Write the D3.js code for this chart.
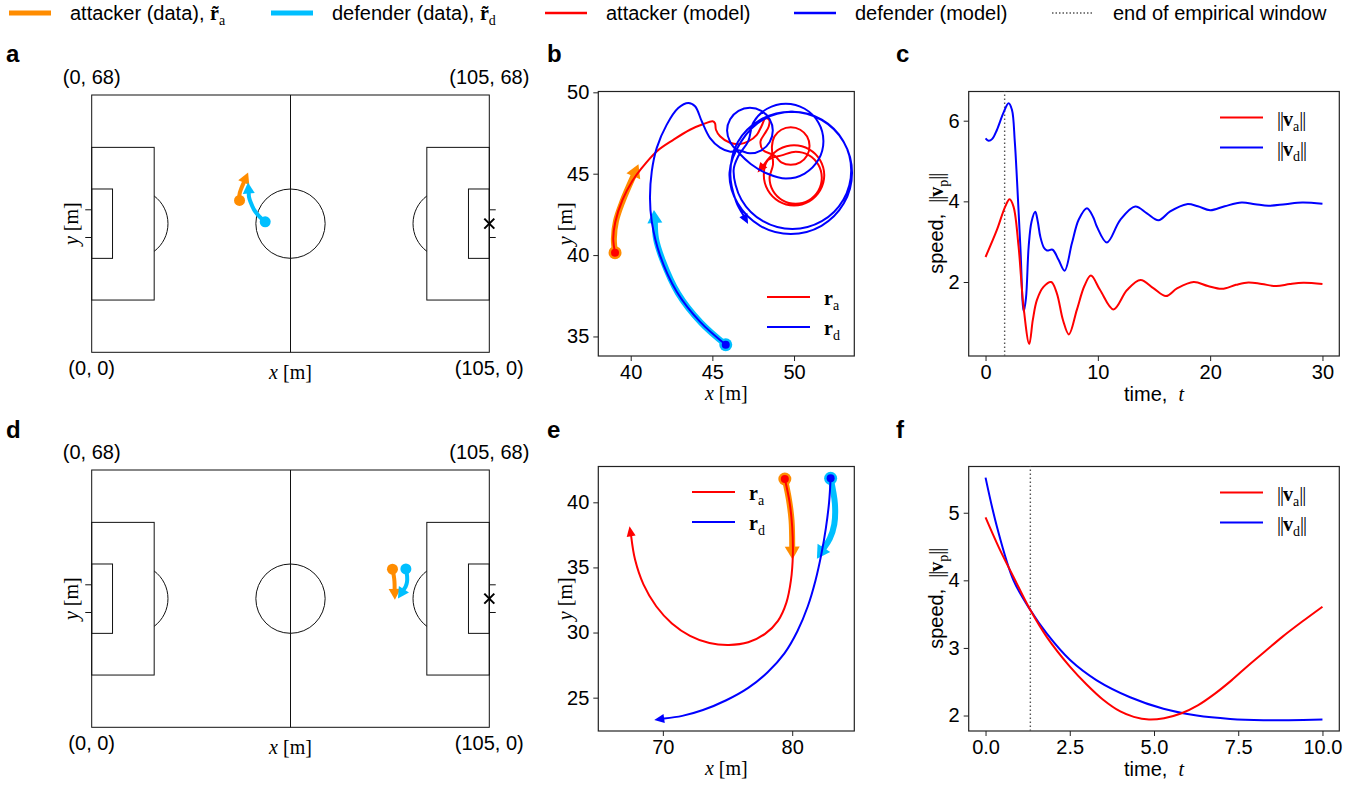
<!DOCTYPE html>
<html>
<head>
<meta charset="utf-8">
<script src="https://cdn.jsdelivr.net/npm/d3@7"></script>
<style>
body { margin: 0; background: #fff; }
svg text { font-family: "Liberation Sans", Arial, sans-serif; fill: #000; }
</style>
</head>
<body>
<svg id="fig" width="1372" height="785"></svg>
<script>
const SANS = '"Liberation Sans", Arial, sans-serif';
const SERIF = '"Liberation Serif", "Times New Roman", serif';

// ---- example 1 (panels a, b, c) ----
const attData1 = [[39.04,40.15],[38.97,41.0],[39.1,42.1],[39.5,43.3],[40.16,44.84]];
const defData1 = [[45.82,34.49],[44.3,35.85],[42.9,37.65],[41.95,39.7],[41.55,41.0],[41.48,41.97]];
const attModel1 = [[39.04,40.15],[38.93,41.0],[39.05,42.0],[39.5,43.4],[40.1,44.55],[40.67,45.34],[41.59,46.37],[42.61,47.08],
  [43.63,47.70],[44.45,48.05],[45.02,48.22],[45.16,48.1],[45.22,47.7],[45.47,47.3],[46.08,46.9],[46.69,46.82],[47.2,46.98],
  [47.72,47.39],[48.02,47.95],[48.25,48.4],[48.48,48.3],[48.45,47.9],[48.2,47.45],[47.95,47.0],[48.1,46.45],[48.8,46.12],
  [49.22,45.7],[49.8,45.55],[50.38,45.7],[50.8,46.12],[50.95,46.7],[50.8,47.28],[50.38,47.7],[49.8,47.85],[49.22,47.7],
  [48.8,47.28],[48.65,46.7],[48.71,45.55],[48.5,44.75],[48.71,43.95],[49.3,43.36],[50.1,43.15],[50.9,43.36],[51.49,43.95],
  [51.7,44.75],[51.49,45.55],[50.9,46.14],[50.1,46.35],[49.3,46.14],[48.4,45.83],[48.15,44.9],[48.4,43.98],[49.07,43.3],
  [50.0,43.05],[50.93,43.3],[51.6,43.98],[51.85,44.9],[51.6,45.83],[50.93,46.5],[50.0,46.75],[49.07,46.5],[48.55,46.05],
  [48.15,45.55]];
const defModel1 = [[45.82,34.49],[44.24,35.91],[42.82,37.75],[41.79,40.0],[41.29,42.06],[41.18,43.5],[41.29,45.14],[41.59,46.57],
  [42.2,48.0],[42.91,49.03],[43.53,49.34],[43.94,49.14],[44.35,48.22],[44.86,47.19],[45.47,46.6],[46.1,46.35],[46.6,46.44],
  [47.3,46.25],[48.0,46.44],[48.51,46.95],[48.7,47.65],[48.51,48.35],[48.0,48.86],[47.3,49.05],[46.6,48.86],[46.09,48.35],
  [45.9,47.65],[46.09,46.95],[46.6,46.3],[47.35,45.6],[48.35,45.01],[49.5,44.7],[50.65,45.01],[51.49,45.85],[51.8,47.0],
  [51.49,48.15],[50.65,48.99],[49.5,49.3],[48.35,48.99],[47.51,48.15],[47.2,47.0],[46.6,46.1],[46.3,45.2],[46.78,43.4],
  [48.1,42.08],[49.9,41.6],[51.7,42.08],[53.02,43.4],[53.5,45.2],[53.02,47.0],[51.7,48.32],[49.9,48.8],[48.1,48.32],
  [46.78,47.0],[46.05,45.05],[46.55,43.18],[47.93,41.8],[49.8,41.3],[51.68,41.8],[53.05,43.18],[53.55,45.05],[53.05,46.93],
  [51.68,48.3],[49.8,48.8],[47.93,48.3],[46.55,46.93],[46.1,45.0],[46.45,43.3],[46.9,42.45]];
const speedA1 = [[0,2.62],[1.01,3.29],[1.75,3.87],[2.14,4.05],[2.49,3.87],[2.94,2.88],[3.38,1.39],[3.89,0.46],[4.21,1.06],
  [4.57,1.55],[5.16,1.88],[5.85,2.0],[6.35,1.72],[6.9,1.05],[7.42,0.70],[8.13,1.31],[8.8,1.9],[9.38,2.16],[10.2,1.8],
  [11.39,1.32],[12.6,1.8],[13.8,2.05],[14.97,1.84],[16.07,1.65],[17.05,1.84],[18.53,2.0],[19.8,1.9],[21.05,1.83],
  [22.3,1.93],[23.4,1.99],[24.6,1.95],[25.9,1.9],[27.1,1.95],[28.3,1.98],[30,1.95]];
const speedD1 = [[0,5.56],[0.27,5.5],[0.6,5.55],[1.01,5.77],[1.6,6.2],[2.05,6.43],[2.35,6.27],[2.6,5.5],[2.8,4.53],[3.1,2.88],
  [3.4,1.27],[3.6,1.6],[3.84,2.88],[4.1,3.5],[4.43,3.74],[4.65,3.5],[4.88,3.12],[5.2,2.85],[5.47,2.78],[5.97,2.8],[6.5,2.55],
  [7.04,2.28],[7.69,2.96],[8.3,3.55],[9.03,3.83],[9.6,3.6],[9.92,3.37],[10.81,2.98],[12.0,3.54],[13.33,3.87],[14.37,3.7],
  [15.4,3.53],[16.44,3.75],[17.92,3.93],[18.9,3.88],[20.0,3.78],[21.3,3.88],[22.8,3.97],[24.0,3.93],[25.2,3.89],[26.7,3.93],
  [28.2,3.97],[30,3.94]];
const tEnd1 = 1.7;

// ---- example 2 (panels d, e, f) ----
const attData2 = [[79.43,41.79],[79.75,40.2],[79.95,38.6],[80.0,36.6]];
const defData2 = [[82.97,41.84],[83.3,39.9],[83.25,38.3],[82.9,37.2],[82.45,36.5]];
const attModel2 = [[79.43,41.79],[79.8,40.0],[80.0,38.1],[80.05,36.0],[79.9,34.0],[79.55,32.3],[78.9,30.9],[77.9,29.9],
  [76.6,29.25],[75.1,29.05],[73.6,29.2],[72.1,29.75],[70.7,30.7],[69.5,32.0],[68.5,33.7],[67.85,35.6],[67.55,37.4]];
const defModel2 = [[82.97,41.84],[82.85,40.0],[82.6,38.0],[82.25,36.0],[81.8,34.0],[81.2,32.0],[80.4,30.1],[79.4,28.4],
  [78.1,26.95],[76.6,25.75],[74.9,24.8],[73.1,24.05],[71.5,23.6],[70.1,23.4]];
const speedA2 = [[0,4.93],[0.4,4.48],[0.83,4.05],[1.33,3.56],[1.82,3.16],[2.51,2.72],[3.0,2.46],[3.5,2.23],[4.0,2.06],
  [4.4,1.98],[4.85,1.94],[5.3,1.96],[5.8,2.03],[6.3,2.15],[6.8,2.32],[7.3,2.52],[7.8,2.74],[8.3,2.95],[8.8,3.16],
  [9.4,3.39],[10,3.61]];
const speedD2 = [[0,5.52],[0.34,4.79],[0.83,4.0],[1.33,3.56],[1.82,3.21],[2.51,2.82],[3.3,2.52],[4.29,2.27],[5.28,2.1],
  [6.27,2.0],[7.26,1.95],[8.25,1.93],[9.0,1.93],[10,1.94]];
const tEnd2 = 1.33;

// ticks
const ticksBx = [40,45,50], ticksBy = [35,40,45,50];
const ticksCx = [0,10,20,30], ticksCy = [2,4,6];
const ticksEx = [70,80], ticksEy = [25,30,35,40];
const ticksFx = [0,2.5,5,7.5,10], ticksFy = [2,3,4,5];
const cornerLabels = ["(0, 68)", "(105, 68)", "(0, 0)", "(105, 0)"];
const panelLetters = ["a","b","c","d","e","f"];

const COL = { att: "#ff8c00", def: "#00bfff", attM: "#ff0000", defM: "#0000ff", win: "#555" };
const SP = "\u00a0";

const svg = d3.select("#fig");

// rich text: parts = [text, style]
function rich(t, parts) {
  let sub = false;
  parts.forEach(p => {
    const s = t.append("tspan").text(p[0]);
    if (p[1] === "serif") s.attr("font-family", SERIF);
    if (p[1] === "bar") s.attr("font-family", SERIF).attr("letter-spacing", "-1px");
    if (p[1] === "it") s.attr("font-family", SERIF).attr("font-style", "italic");
    if (p[1] === "bold") s.attr("font-family", SERIF).attr("font-weight", "bold");
    if (p[1] === "sub") { s.attr("font-family", SERIF).attr("font-size", "14px").attr("dy", 5); sub = true; }
    else if (sub) { s.attr("dy", -5); sub = false; }
  });
  return t;
}

// ---- top legend ----
const legendItems = [
  { x: 9,    color: COL.att,  w: 5,   dash: null,    parts: [["attacker (data), ","sans"],["r\u0303","bold"],["a","sub"]] },
  { x: 271,  color: COL.def,  w: 5,   dash: null,    parts: [["defender (data), ","sans"],["r\u0303","bold"],["d","sub"]] },
  { x: 545,  color: COL.attM, w: 2.5, dash: null,    parts: [["attacker (model)","sans"]] },
  { x: 794,  color: COL.defM, w: 2.5, dash: null,    parts: [["defender (model)","sans"]] },
  { x: 1052, color: COL.win,  w: 1.5, dash: "1.5,2", parts: [["end of empirical window","sans"]] }
];
legendItems.forEach(it => {
  svg.append("line").attr("x1", it.x).attr("x2", it.x + 42).attr("y1", 13).attr("y2", 13)
    .attr("stroke", it.color).attr("stroke-width", it.w).attr("stroke-dasharray", it.dash);
  rich(svg.append("text").attr("x", it.x + 61).attr("y", 20).attr("font-size", 20), it.parts);
});

// panel letters
const letterPos = [[6,62],[547,62],[896,62],[6,438],[547,438],[896,438]];
panelLetters.forEach((l, i) => {
  svg.append("text").attr("x", letterPos[i][0]).attr("y", letterPos[i][1])
    .attr("font-size", 24).attr("font-weight", "bold").text(l);
});

// ---- helpers ----
const smooth = (sx, sy) => d3.line().x(d => sx(d[0])).y(d => sy(d[1])).curve(d3.curveCatmullRom.alpha(0.5));

function arrowHead(g, pts, sx, sy, color, len, wid) {
  const n = pts.length;
  const x1 = sx(pts[n-2][0]), y1 = sy(pts[n-2][1]), x2 = sx(pts[n-1][0]), y2 = sy(pts[n-1][1]);
  let dx = x2 - x1, dy = y2 - y1;
  const L = Math.hypot(dx, dy); dx /= L; dy /= L;
  const tip = [x2 + dx*len, y2 + dy*len];
  const a = [x2 - dy*wid/2, y2 + dx*wid/2], b = [x2 + dy*wid/2, y2 - dx*wid/2];
  g.append("path").attr("d", "M" + tip + "L" + a + "L" + b + "Z").attr("fill", color);
}

function track(g, pts, sx, sy, color, w, hl, hw) {
  g.append("path").attr("d", smooth(sx, sy)(pts)).attr("fill", "none")
    .attr("stroke", color).attr("stroke-width", w).attr("stroke-linecap", "round");
  arrowHead(g, pts, sx, sy, color, hl, hw);
}

function startDot(g, pts, sx, sy, color, r) {
  g.append("circle").attr("cx", sx(pts[0][0])).attr("cy", sy(pts[0][1])).attr("r", r).attr("fill", color);
}

// ---- pitch panels ----
function drawPitch(g, x, y, att, def) {
  const k = x(1) - x(0);
  const ln = s => s.attr("fill", "none").attr("stroke", "#111").attr("stroke-width", 1);
  ln(g.append("rect").attr("x", x(0)).attr("y", y(68)).attr("width", x(105) - x(0)).attr("height", y(0) - y(68)));
  ln(g.append("line").attr("x1", x(52.5)).attr("x2", x(52.5)).attr("y1", y(0)).attr("y2", y(68)));
  ln(g.append("circle").attr("cx", x(52.5)).attr("cy", y(34)).attr("r", 9.15 * k));
  [[0,16.5,20.16],[88.5,105,20.16],[0,5.5,9.16],[99.5,105,9.16]].forEach(b => {
    ln(g.append("rect").attr("x", x(b[0])).attr("y", y(34 + b[2])).attr("width", x(b[1]) - x(b[0])).attr("height", 2 * b[2] * k));
  });
  const h = Math.sqrt(9.15*9.15 - 5.5*5.5);
  ln(g.append("path").attr("d", `M${x(16.5)},${y(34+h)}A${9.15*k},${9.15*k} 0 0 1 ${x(16.5)},${y(34-h)}`));
  ln(g.append("path").attr("d", `M${x(88.5)},${y(34+h)}A${9.15*k},${9.15*k} 0 0 0 ${x(88.5)},${y(34-h)}`));
  [34 - 3.66, 34 + 3.66].forEach(gy => {
    ln(g.append("line").attr("x1", x(-1.7)).attr("x2", x(0)).attr("y1", y(gy)).attr("y2", y(gy)));
    ln(g.append("line").attr("x1", x(105)).attr("x2", x(106.7)).attr("y1", y(gy)).attr("y2", y(gy)));
  });
  const cx = x(105), cy = y(34);
  g.append("path").attr("d", `M${cx-5},${cy-5}L${cx+5},${cy+5}M${cx-5},${cy+5}L${cx+5},${cy-5}`)
    .attr("stroke", "#000").attr("stroke-width", 2);

  track(g, att, x, y, COL.att, 4, 11, 12);
  startDot(g, att, x, y, COL.att, 5.5);
  track(g, def, x, y, COL.def, 4, 11, 12);
  startDot(g, def, x, y, COL.def, 5.5);

  const top = y(68), bot = y(0);
  [[0, top - 11], [105, top - 11], [0, bot + 23], [105, bot + 23]].forEach((p, i) => {
    g.append("text").attr("x", x(p[0])).attr("y", p[1]).attr("text-anchor", "middle")
      .attr("font-size", 20).text(cornerLabels[i]);
  });
  rich(g.append("text").attr("x", x(52.5)).attr("y", bot + 27).attr("text-anchor", "middle").attr("font-size", 20),
    [["x","it"],[" [m]","serif"]]);
  rich(g.append("text").attr("transform", `translate(${x(0) - 14},${y(34)}) rotate(-90)`)
    .attr("text-anchor", "middle").attr("font-size", 20), [["y","it"],[" [m]","serif"]]);
}

const pxA = d3.scaleLinear().domain([0,105]).range([91.7,489.3]);
const pyA = d3.scaleLinear().domain([0,68]).range([352.3,95]);
const pyD = d3.scaleLinear().domain([0,68]).range([727.3,470]);
drawPitch(svg.append("g"), pxA, pyA, attData1, defData1);
drawPitch(svg.append("g"), pxA, pyD, attData2, defData2);

// ---- framed axes ----
function frame(g, x, y, tx, ty, fmt) {
  const [x0, x1] = x.range(), [y0, y1] = y.range();
  const ax = g.append("g").attr("transform", `translate(0,${y0})`)
    .call(d3.axisBottom(x).tickValues(tx).tickSize(5).tickPadding(4).tickFormat(fmt || d3.format("d")));
  const ay = g.append("g").attr("transform", `translate(${x0},0)`)
    .call(d3.axisLeft(y).tickValues(ty).tickSize(5).tickPadding(4).tickFormat(d3.format("d")));
  [ax, ay].forEach(a => {
    a.select(".domain").remove();
    a.attr("font-size", 20).attr("font-family", SANS);
    a.selectAll("line").attr("stroke", "#222");
  });
  g.append("rect").attr("x", x0).attr("y", y1).attr("width", x1 - x0).attr("height", y0 - y1)
    .attr("fill", "none").attr("stroke", "#222").attr("stroke-width", 1.2);
}

function smallLegend(g, lx, ly, labels) {
  [COL.attM, COL.defM].forEach((c, i) => {
    g.append("line").attr("x1", lx).attr("x2", lx + 43).attr("y1", ly + i * 30).attr("y2", ly + i * 30)
      .attr("stroke", c).attr("stroke-width", 2);
    rich(g.append("text").attr("x", lx + 57).attr("y", ly + i * 30 + 8).attr("font-size", 20), labels[i]);
  });
}

const posLegend = [[["r","bold"],["a","sub"]], [["r","bold"],["d","sub"]]];
const spdLegend = [[["||","bar"],["v","bold"],["a","sub"],["||","bar"]],
                   [["||","bar"],["v","bold"],["d","sub"],["||","bar"]]];

function trajPanel(g, x, y, tx, ty, att, def, attM, defM, leg) {
  frame(g, x, y, tx, ty);
  track(g, att, x, y, COL.att, 6, 13, 15);
  track(g, def, x, y, COL.def, 6, 13, 15);
  startDot(g, att, x, y, COL.att, 6.5);
  startDot(g, def, x, y, COL.def, 6.5);
  track(g, attM, x, y, COL.attM, 2, 10, 9);
  track(g, defM, x, y, COL.defM, 2, 10, 9);
  startDot(g, attM, x, y, COL.attM, 4);
  startDot(g, defM, x, y, COL.defM, 4);
  smallLegend(g, leg[0], leg[1], posLegend);
  const [x0, x1] = x.range(), [y0, y1] = y.range();
  rich(g.append("text").attr("x", (x0 + x1) / 2).attr("y", y0 + 44).attr("text-anchor", "middle").attr("font-size", 20),
    [["x","it"],[" [m]","serif"]]);
  rich(g.append("text").attr("transform", `translate(${x0 - 26},${(y0 + y1) / 2}) rotate(-90)`)
    .attr("text-anchor", "middle").attr("font-size", 20), [["y","it"],[" [m]","serif"]]);
}

function speedPanel(g, x, y, tx, ty, sa, sd, tEnd, fmt) {
  frame(g, x, y, tx, ty, fmt);
  const [x0, x1] = x.range(), [y0, y1] = y.range();
  g.append("line").attr("x1", x(tEnd)).attr("x2", x(tEnd)).attr("y1", y0).attr("y2", y1)
    .attr("stroke", COL.win).attr("stroke-width", 1.4).attr("stroke-dasharray", "1.5,2.5");
  const line = d3.line().x(d => x(d[0])).y(d => y(d[1])).curve(d3.curveCatmullRom.alpha(0.5));
  g.append("path").attr("d", line(sd)).attr("fill", "none").attr("stroke", COL.defM).attr("stroke-width", 2);
  g.append("path").attr("d", line(sa)).attr("fill", "none").attr("stroke", COL.attM).attr("stroke-width", 2);
  smallLegend(g, 1220, y1 + 26, spdLegend);
  rich(g.append("text").attr("x", (x0 + x1) / 2).attr("y", y0 + 45).attr("text-anchor", "middle").attr("font-size", 20),
    [["time," + SP + SP,"sans"],["t","it"]]);
  rich(g.append("text").attr("transform", `translate(943,${(y0 + y1) / 2}) rotate(-90)`)
    .attr("text-anchor", "middle").attr("font-size", 20),
    [["speed," + SP + SP,"sans"],["||","bar"],["v","bold"],["p","sub"],["||","bar"]]);
}

const bX = d3.scaleLinear().domain([38.016,53.69]).range([598.3,854.3]);
const bY = d3.scaleLinear().domain([33.80,50.05]).range([356,91.5]);
const eX = d3.scaleLinear().domain([65.01,84.8]).range([598.3,854.3]);
const eY = d3.scaleLinear().domain([22.44,42.75]).range([731,466.5]);
const cX = d3.scaleLinear().domain([-1.5,31.5]).range([968.7,1339.3]);
const cY = d3.scaleLinear().domain([0.165,6.724]).range([356,91.5]);
const fX = d3.scaleLinear().domain([-0.5,10.5]).range([968.7,1339.3]);
const fY = d3.scaleLinear().domain([1.771,5.684]).range([731,466.5]);

trajPanel(svg.append("g"), bX, bY, ticksBx, ticksBy, attData1, defData1, attModel1, defModel1, [767, 297]);
trajPanel(svg.append("g"), eX, eY, ticksEx, ticksEy, attData2, defData2, attModel2, defModel2, [692, 492]);
speedPanel(svg.append("g"), cX, cY, ticksCx, ticksCy, speedA1, speedD1, tEnd1);
speedPanel(svg.append("g"), fX, fY, ticksFx, ticksFy, speedA2, speedD2, tEnd2, d3.format(".1f"));
</script>
</body>
</html>
